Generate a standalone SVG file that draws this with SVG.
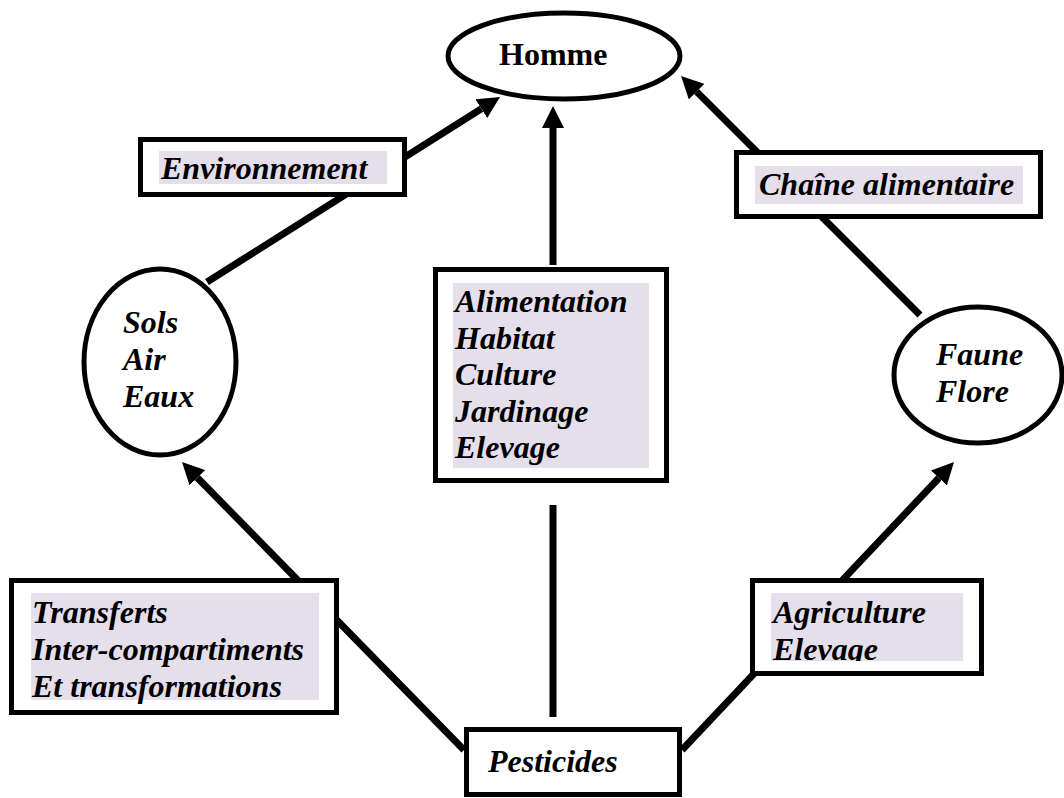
<svg xmlns="http://www.w3.org/2000/svg" width="1064" height="798" viewBox="0 0 1064 798">
<style>
.box{fill:#fff;stroke:#000;stroke-width:5}
.ell{fill:#fff;stroke:#000;stroke-width:5}
.hl{fill:#e4dfeb}
.lbl{font-family:"Liberation Serif","Times New Roman",serif;font-size:32px;font-weight:bold;font-style:italic;fill:#000}
.ttl{font-family:"Liberation Serif","Times New Roman",serif;font-size:32px;font-weight:bold;fill:#000}
.con{stroke:#000;stroke-width:7;fill:none}
</style>
<defs>
<marker id="ah" viewBox="0 0 22 22" markerUnits="userSpaceOnUse" markerWidth="22" markerHeight="22" refX="0" refY="11" orient="auto">
<path d="M0,0 L22,11 L0,22 z" fill="#000"/>
</marker>
<clipPath id="agclip"><rect x="771" y="593" width="192" height="68"/></clipPath>
</defs>
<rect width="1064" height="798" fill="#fff"/>
<g id="connectors">
<line class="con" x1="553" y1="265" x2="553" y2="128" marker-end="url(#ah)"/>
<line class="con" x1="553" y1="717" x2="553" y2="505"/>
<line class="con" x1="207" y1="282" x2="481.4" y2="108.7" marker-end="url(#ah)"/>
<line class="con" x1="920" y1="315" x2="696.6" y2="91.6" marker-end="url(#ah)"/>
<line class="con" x1="464" y1="750" x2="197.4" y2="477.7" marker-end="url(#ah)"/>
<line class="con" x1="682" y1="750" x2="938.9" y2="478" marker-end="url(#ah)"/>
</g>
<g id="homme">
<ellipse class="ell" cx="564" cy="56" rx="116" ry="43"/>
<text class="ttl" x="499" y="65">Homme</text>
</g>
<g id="environnement">
<rect class="box" x="140.5" y="139.5" width="264" height="55"/>
<rect class="hl" x="159" y="151" width="228" height="33"/>
<text class="lbl" x="161" y="179">Environnement</text>
</g>
<g id="chaine">
<rect class="box" x="736.5" y="152.5" width="304" height="64"/>
<rect class="hl" x="755" y="166" width="268" height="38"/>
<text class="lbl" x="759" y="195">Chaîne alimentaire</text>
</g>
<g id="usages">
<rect class="box" x="435.5" y="269.5" width="231" height="211"/>
<rect class="hl" x="453" y="283" width="196" height="185"/>
<text class="lbl" x="455" y="312">Alimentation</text>
<text class="lbl" x="455" y="348.6">Habitat</text>
<text class="lbl" x="455" y="385.2">Culture</text>
<text class="lbl" x="455" y="421.8">Jardinage</text>
<text class="lbl" x="455" y="458.4">Elevage</text>
</g>
<g id="sols">
<ellipse class="ell" cx="160" cy="362" rx="76" ry="93"/>
<text class="lbl" x="123" y="333">Sols</text>
<text class="lbl" x="123" y="370">Air</text>
<text class="lbl" x="123" y="407">Eaux</text>
</g>
<g id="faune">
<ellipse class="ell" cx="978" cy="375" rx="84" ry="68"/>
<text class="lbl" x="936" y="365">Faune</text>
<text class="lbl" x="936" y="402">Flore</text>
</g>
<g id="transferts">
<rect class="box" x="11.5" y="580.5" width="325" height="132"/>
<rect class="hl" x="31" y="593" width="288" height="107"/>
<text class="lbl" x="32" y="623">Transferts</text>
<text class="lbl" x="32" y="660">Inter-compartiments</text>
<text class="lbl" x="32" y="697">Et transformations</text>
</g>
<g id="agriculture">
<rect class="box" x="752.5" y="580.5" width="229" height="93"/>
<rect class="hl" x="771" y="593" width="192" height="68"/>
<g clip-path="url(#agclip)">
<text class="lbl" x="773" y="623">Agriculture</text>
<text class="lbl" x="773" y="660">Elevage</text>
</g>
</g>
<g id="pesticides">
<rect class="box" x="466.5" y="729.5" width="213" height="65"/>
<text class="lbl" x="488" y="772">Pesticides</text>
</g>
</svg>
